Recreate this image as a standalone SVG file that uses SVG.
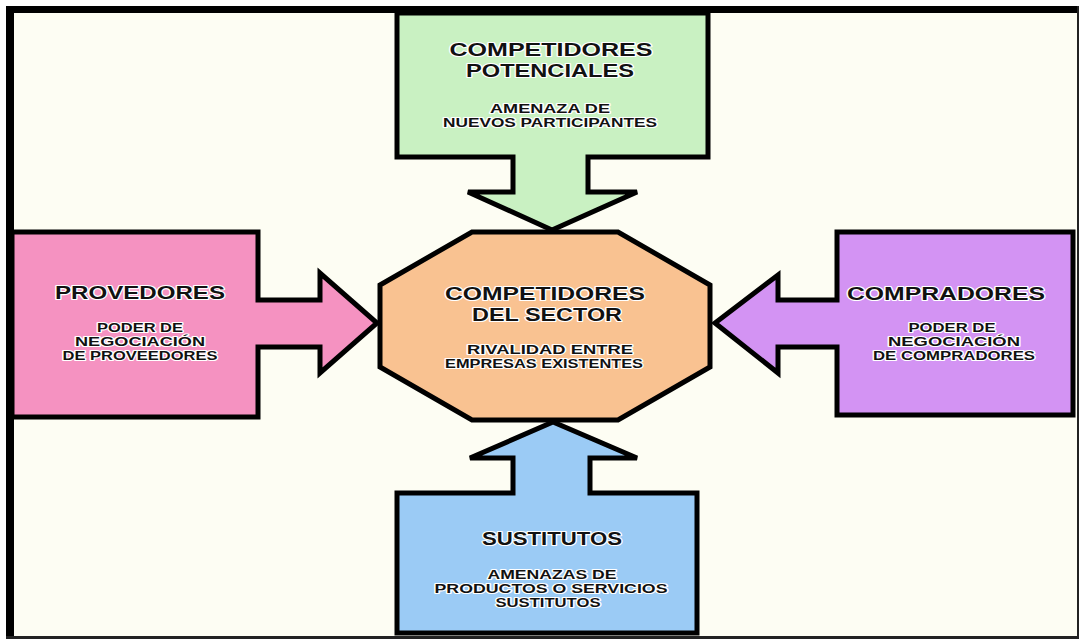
<svg xmlns="http://www.w3.org/2000/svg" width="1080" height="641" viewBox="0 0 1080 641">
<style>
.shape{stroke:#000;stroke-width:5;stroke-linejoin:miter}
.t{font-family:"Liberation Sans",Arial,sans-serif;font-weight:bold;fill:#111;text-anchor:middle;stroke:#fff;stroke-width:2.2;paint-order:stroke;stroke-linejoin:round}
.h{font-size:18px}
.s{font-size:12px}
</style>
<rect x="0" y="0" width="1080" height="641" fill="#ffffff"/>
<rect x="6" y="6" width="1073" height="633" fill="#FDFDF3"/>
<g id="connectors"></g>
<g id="potenciales">
<path class="shape" fill="#C9F1C2" d="M397,13 L708,13 L708,157 L588,157 L588,192 L637,192 L552,230 L468,192 L513,192 L513,157 L397,157 Z"/>
<text class="t h" x="551" y="56" textLength="203" lengthAdjust="spacingAndGlyphs">COMPETIDORES</text>
<text class="t h" x="550" y="77" textLength="168" lengthAdjust="spacingAndGlyphs">POTENCIALES</text>
<text class="t s" x="550" y="113" textLength="120" lengthAdjust="spacingAndGlyphs">AMENAZA DE</text>
<text class="t s" x="550" y="127" textLength="214" lengthAdjust="spacingAndGlyphs">NUEVOS PARTICIPANTES</text>
</g>
<g id="proveedores">
<path class="shape" fill="#F592C1" d="M12,232 L258,232 L258,300 L320,300 L320,273 L377,323 L320,373 L320,347 L258,347 L258,417 L12,417 Z"/>
<text class="t h" x="140" y="299" textLength="170" lengthAdjust="spacingAndGlyphs">PROVEDORES</text>
<text class="t s" x="140" y="332" textLength="86" lengthAdjust="spacingAndGlyphs">PODER DE</text>
<text class="t s" x="140" y="346" textLength="130" lengthAdjust="spacingAndGlyphs">NEGOCIACIÓN</text>
<text class="t s" x="140" y="360" textLength="155" lengthAdjust="spacingAndGlyphs">DE PROVEEDORES</text>
</g>
<g id="compradores">
<path class="shape" fill="#D393F3" d="M1073,232 L837,232 L837,300 L778,300 L778,275 L715,323 L778,373 L778,347 L837,347 L837,415 L1073,415 Z"/>
<text class="t h" x="946" y="300" textLength="198" lengthAdjust="spacingAndGlyphs">COMPRADORES</text>
<text class="t s" x="952" y="332" textLength="87" lengthAdjust="spacingAndGlyphs">PODER DE</text>
<text class="t s" x="954" y="346" textLength="132" lengthAdjust="spacingAndGlyphs">NEGOCIACIÓN</text>
<text class="t s" x="954" y="360" textLength="162" lengthAdjust="spacingAndGlyphs">DE COMPRADORES</text>
</g>
<g id="sustitutos">
<path class="shape" fill="#9BCBF5" d="M397,633 L397,493 L513,493 L513,458 L470,458 L553,422 L637,458 L590,458 L590,493 L697,493 L697,633 Z"/>
<text class="t h" x="552" y="545" textLength="140" lengthAdjust="spacingAndGlyphs">SUSTITUTOS</text>
<text class="t s" x="552" y="579" textLength="129" lengthAdjust="spacingAndGlyphs">AMENAZAS DE</text>
<text class="t s" x="551" y="593" textLength="233" lengthAdjust="spacingAndGlyphs">PRODUCTOS O SERVICIOS</text>
<text class="t s" x="548" y="607" textLength="105" lengthAdjust="spacingAndGlyphs">SUSTITUTOS</text>
</g>
<g id="sector">
<polygon class="shape" fill="#F9C291" points="472,232 618,232 710,285 710,367 618,420 472,420 380,367 380,285"/>
<text class="t h" x="545" y="300" textLength="200" lengthAdjust="spacingAndGlyphs">COMPETIDORES</text>
<text class="t h" x="547" y="321" textLength="150" lengthAdjust="spacingAndGlyphs">DEL SECTOR</text>
<text class="t s" x="550" y="354" textLength="166" lengthAdjust="spacingAndGlyphs">RIVALIDAD ENTRE</text>
<text class="t s" x="544" y="368" textLength="198" lengthAdjust="spacingAndGlyphs">EMPRESAS EXISTENTES</text>
</g>
<g id="frame">
<rect x="6" y="6" width="1073" height="7" fill="#000"/>
<rect x="6" y="6" width="8" height="633" fill="#000"/>
<rect x="1077" y="6" width="2" height="633" fill="#222"/>
<rect x="6" y="636" width="1073" height="3" fill="#222"/>
</g>
</svg>
